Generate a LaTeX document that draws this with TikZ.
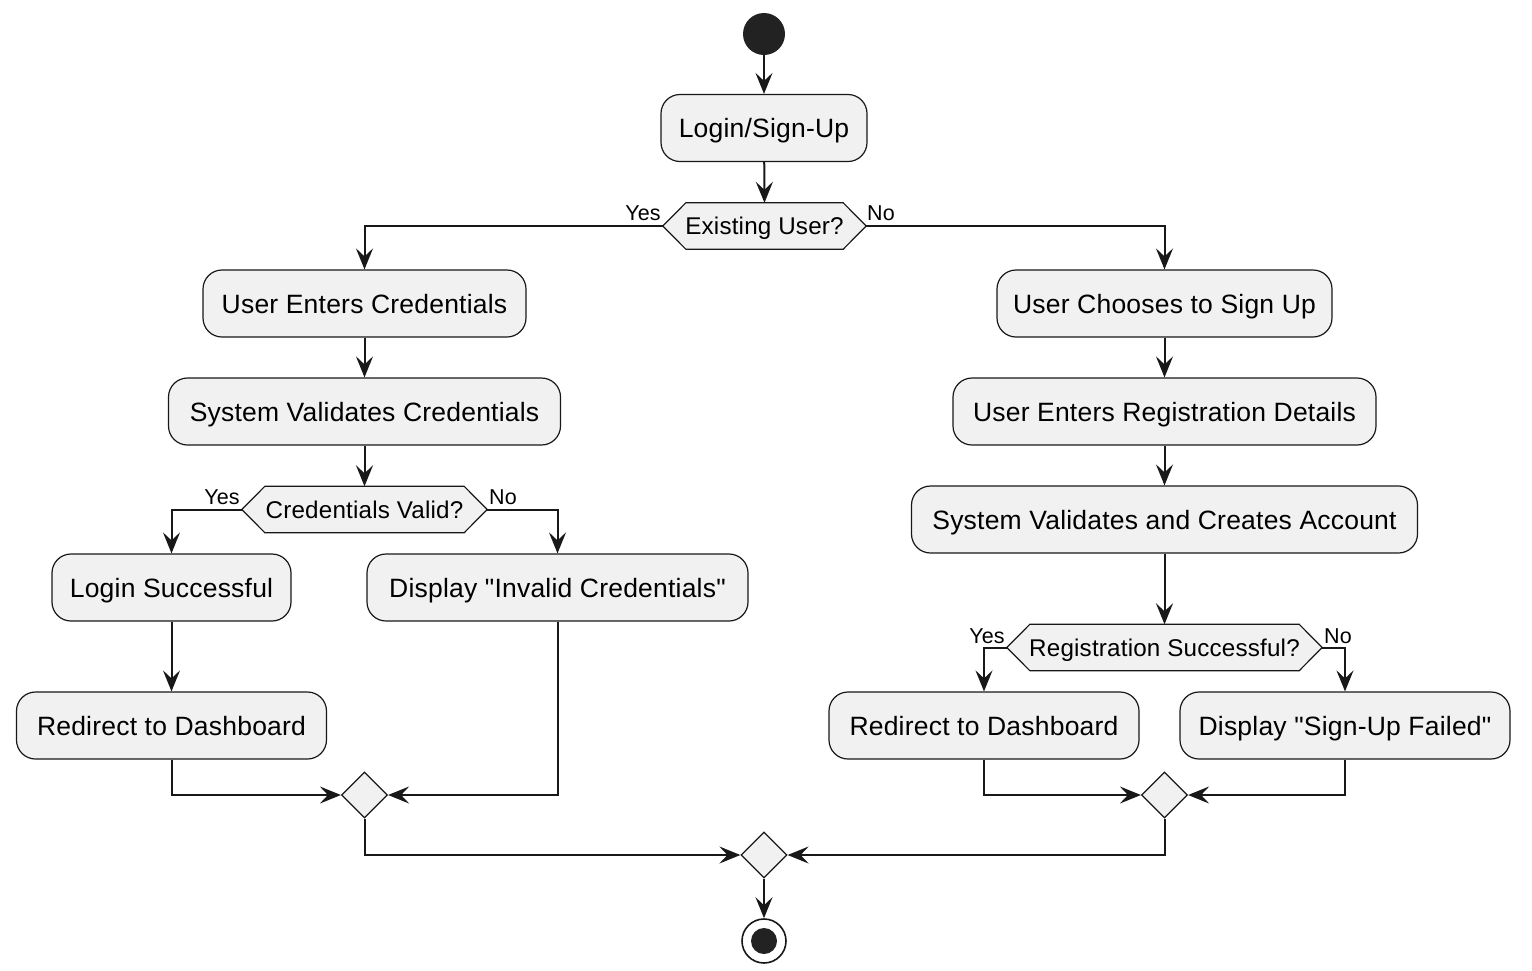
\documentclass[tikz,border=0pt]{standalone}
\usepackage{fontspec}
\setmainfont[Ligatures=TeXReset,LetterSpace=0.8]{Liberation Sans}
\usetikzlibrary{arrows.meta,shapes.geometric,calc}
\definecolor{lc}{HTML}{181818}
\definecolor{bf}{HTML}{F1F1F1}
\definecolor{dot}{HTML}{222222}
\begin{document}
\begin{tikzpicture}[x=1pt,y=-1pt,
  act/.style={draw=lc,line width=1.2pt,fill=bf,rounded corners=19pt,minimum height=67pt,inner sep=0pt,text height=19pt,text depth=0pt,font=\fontsize{26.5}{30}\selectfont},
  hexbox/.style={minimum height=46pt,inner sep=0pt,font=\fontsize{24.2}{28}\selectfont},
  hextext/.style={inner sep=0pt,text height=17.4pt,text depth=0pt,font=\fontsize{24.2}{28}\selectfont},
  hexline/.style={draw=lc,line width=1.2pt,fill=bf},
  merge/.style={diamond,draw=lc,line width=1.2pt,fill=bf,minimum width=46pt,minimum height=46pt,inner sep=0pt},
  lbl/.style={font=\fontsize{21.5}{24}\selectfont,inner sep=0pt},
  arr/.style={draw=lc,line width=2pt,-{Stealth[length=21pt,width=17pt,inset=8pt]}}]
\useasboundingbox (0,0) rectangle (1532,970);
% start / end
\node[circle,fill=dot,minimum size=42pt,inner sep=0pt] (start) at (764,34) {};
\node[circle,draw=lc,line width=1.6pt,fill=white,minimum size=44pt,inner sep=0pt] (stop) at (764,941) {};
\node[circle,fill=dot,minimum size=26pt,inner sep=0pt] (stopdot) at (764,941) {};
% boxes
\node[act,minimum width=206pt] (ls) at (764,128) {Login/Sign-Up};
\node[act,minimum width=323pt] (uec) at (364.5,303.5) {User Enters Credentials};
\node[act,minimum width=392pt] (svc) at (364.5,411.5) {System Validates Credentials};
\node[act,minimum width=239pt] (lsu) at (171.5,587.5) {Login Successful};
\node[act,minimum width=381pt] (dic) at (557.5,587.5) {Display "Invalid Credentials"};
\node[act,minimum width=310pt] (rd1) at (171.5,725.5) {Redirect to Dashboard};
\node[act,minimum width=335pt] (ucs) at (1164.5,303.5) {User Chooses to Sign Up};
\node[act,minimum width=423pt] (erd) at (1164.5,411.5) {User Enters Registration Details};
\node[act,minimum width=506pt] (sva) at (1164.5,519.5) {System Validates and Creates Account};
\node[act,minimum width=310pt] (rd2) at (984,725.5) {Redirect to Dashboard};
\node[act,minimum width=330pt] (suf) at (1345,725.5) {Display "Sign-Up Failed"};
% hexagons
\node[hexbox,minimum width=157pt] (eu) at (764.5,226) {};
\node[hexbox,minimum width=199pt] (cv) at (364.5,509.5) {};
\node[hexbox,minimum width=269pt] (rs) at (1164.5,647.5) {};
\foreach \h in {eu,cv,rs}{
  \coordinate (\h-l) at ($(\h.west)+(-23,0)$);
  \coordinate (\h-r) at ($(\h.east)+(23,0)$);
  \path[hexline] (\h.north west) -- (\h.north east) -- (\h-r) -- (\h.south east) -- (\h.south west) -- (\h-l) -- cycle;
}
\node[hextext] (eut) at (eu) {Existing User?};
\node[hextext] (cvt) at (cv) {Credentials Valid?};
\node[hextext] (rst) at (rs) {Registration Successful?};
% merges
\node[merge] (m1) at (364.5,795) {};
\node[merge] (m2) at (1164.5,795) {};
\node[merge] (mf) at (764,855) {};
% labels
\node[lbl] (y1) at (643,213) {Yes};
\node[lbl] (n1) at (881,213) {No};
\node[lbl] (y2) at (222,497) {Yes};
\node[lbl] (n2) at (503,497) {No};
\node[lbl] (y3) at (987,636) {Yes};
\node[lbl] (n3) at (1338,636) {No};
% connectors
\draw[arr] (start) -- (ls);
\draw[arr] (ls) -- (eu.north);
\draw[arr] (eu-l) -| (uec);
\draw[arr] (eu-r) -| (ucs);
\draw[arr] (uec) -- (svc);
\draw[arr] (svc) -- (cv.north);
\draw[arr] (cv-l) -| (lsu);
\draw[arr] (cv-r) -| (dic);
\draw[arr] (lsu) -- (rd1);
\draw[arr] (rd1) |- (m1);
\draw[arr] (dic) |- (m1);
\draw[arr] (ucs) -- (erd);
\draw[arr] (erd) -- (sva);
\draw[arr] (sva) -- (rs.north);
\draw[arr] (rs-l) -| (rd2);
\draw[arr] (rs-r) -| (suf);
\draw[arr] (rd2) |- (m2);
\draw[arr] (suf) |- (m2);
\draw[arr] (m1) |- (mf);
\draw[arr] (m2) |- (mf);
\draw[arr] (mf) -- (stop);
\end{tikzpicture}
\end{document}
